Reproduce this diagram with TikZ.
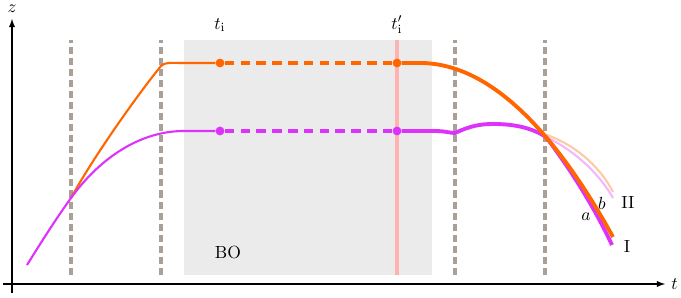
\documentclass[tikz,border=0pt]{standalone}
\usetikzlibrary{arrows}
\definecolor{orangeI}{RGB}{255,102,0}
\definecolor{violetI}{RGB}{220,50,250}
\definecolor{grisBO}{RGB}{235,235,235}
\definecolor{gristaupe}{RGB}{170,160,150}
\definecolor{rosepale}{RGB}{255,178,178}
\tikzset{
	pointc/.style={circle, inner sep=0pt, minimum size=5pt, fill=#1},
	limite/.style={gristaupe, line width=2pt, dash pattern=on 4pt off 2.3pt},
	trajet/.style={line width=2.2pt},
	attente/.style={line width=2pt, dash pattern=on 5.5pt off 3.5pt}
}
\begin{document}
\begin{tikzpicture}[x=0.02cm,y=0.02cm]
			\useasboundingbox (0,0) rectangle (681,298);
			% zone BO
			\fill[grisBO] (184,23) rectangle (432,258);
			\draw (228,45) node (BO) {BO};
			\draw[rosepale, line width=2.3pt] (397,23) -- (397,258);
			% limites
			\foreach \x in {71,161,455,545} \draw[limite] (\x,23) -- (\x,258);
			% axes
			\draw[->,>=latex, line width=0.6pt] (3,14) -- (665,14) node[right] (t) {$t$};
			\draw[->,>=latex, line width=0.6pt] (12,5) -- (12,279) node[above] (z) {$z$};
			% points
			\draw (220,235) node[pointc=orangeI] (Oi) {};
			\draw (397,235) node[pointc=orangeI] (Oj) {};
			\draw (220,167) node[pointc=violetI] (Vi) {};
			\draw (397,167) node[pointc=violetI] (Vj) {};
			\draw (220,273) node (ti) {$t_{\mathrm{i}}$};
			\draw (397,273) node (tj) {$t'_{\mathrm{i}}$};
			\coordinate (X) at (71,100);
			\coordinate (Ob) at (547,163);
			\coordinate (Vb) at (546,161);
			% branches II
			\draw[orangeI!35, line width=1.2pt] (Ob) .. controls (572,154) and (598,135) .. (613,106);
			\draw[violetI!35, line width=1.2pt] (Vb) .. controls (570,150) and (597,128) .. (613,100);
			% avant
			\draw[orangeI, line width=1.2pt] (X) .. controls (95,144) and (142,209) .. (161,232)
				.. controls (165,236) and (170,235) .. (184,235) -- (Oi);
			\draw[violetI, line width=1.2pt] (27,33) .. controls (45,62) and (58,82) .. (X)
				.. controls (100,140) and (140,167) .. (184,167) -- (Vi);
			\draw[orangeI, attente] (Oi) -- (Oj);
			\draw[violetI, attente] (Vi) -- (Vj);
			% apres
			\draw[violetI, trajet] (Vj) -- (435,167) .. controls (445,167) and (450,165) .. (455,165)
				.. controls (470,172) and (480,174) .. (493,174)
				.. controls (515,174) and (532,170) .. (Vb)
				.. controls (562,140) and (590,100) .. (612,53);
			\draw[orangeI, trajet] (Oj) -- (420,235) .. controls (484,235) and (549,177) .. (613,61);
			\draw (627,51) node (I) {I};
			\draw (628,95) node (II) {II};
			\draw (586,81) node (a) {$a$};
			\draw (602,95) node (b) {$b$};
		\end{tikzpicture}
\end{document}
